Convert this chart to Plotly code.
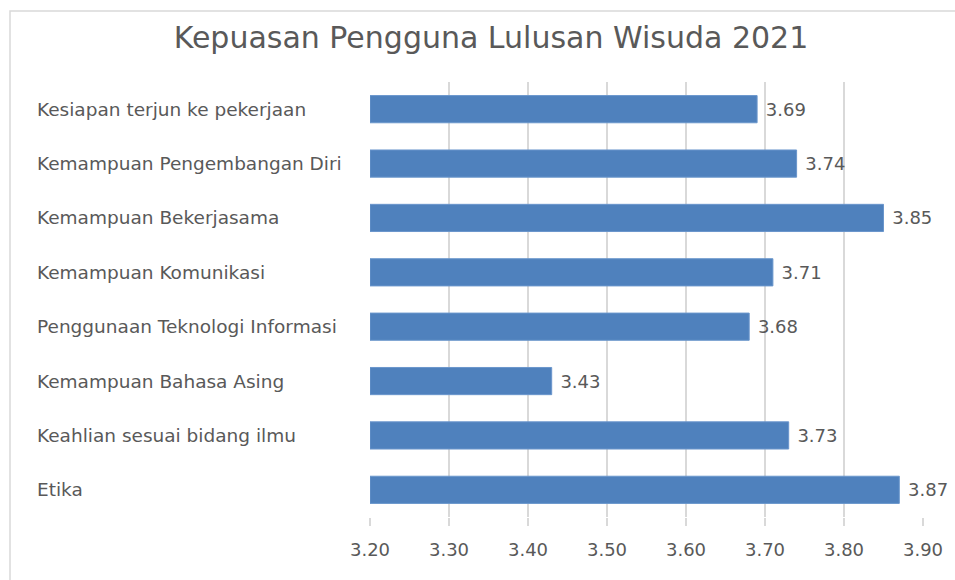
import plotly.graph_objects as go

categories = [
    "Kesiapan terjun ke pekerjaan",
    "Kemampuan Pengembangan Diri",
    "Kemampuan Bekerjasama",
    "Kemampuan Komunikasi",
    "Penggunaan Teknologi Informasi",
    "Kemampuan Bahasa Asing",
    "Keahlian sesuai bidang ilmu",
    "Etika",
]
values = [3.69, 3.74, 3.85, 3.71, 3.68, 3.43, 3.73, 3.87]
axis_min = 3.2
axis_max = 3.9
tick_vals = [3.2, 3.3, 3.4, 3.5, 3.6, 3.7, 3.8, 3.9]
tick_text = ["3.20", "3.30", "3.40", "3.50", "3.60", "3.70", "3.80", "3.90"]
title_text = "Kepuasan Pengguna Lulusan Wisuda 2021"

FONT = "DejaVu Sans"
GRAY = "#595959"

W, H = 955, 580
L, R, T, B = 370, 32, 82, 63
pw = W - L - R
ph = H - T - B

fig = go.Figure()
fig.add_trace(go.Bar(
    x=[v - axis_min for v in values], y=categories, orientation="h",
    base=axis_min,
    marker=dict(color="#4f81bd", line=dict(color="#6a96cc", width=1)),
    text=[f"{v:.2f}" for v in values],
    texttemplate=" %{text}",
    textposition="outside",
    textfont=dict(family=FONT, size=18, color=GRAY),
    cliponaxis=False,
    width=0.5,
    hoverinfo="skip",
))

for c in categories:
    fig.add_annotation(
        x=(35 - L) / pw, xref="paper", y=c, yref="y",
        text=c, showarrow=False, xanchor="left",
        font=dict(family=FONT, size=18.5, color=GRAY),
    )

fig.add_shape(type="rect", xref="paper", yref="paper",
              x0=(10 - L) / pw, x1=(W + 20 - L) / pw,
              y0=-(H + 20 - T - ph) / ph, y1=1 + (T - 11) / ph,
              line=dict(color="#d9d9d9", width=1.5), fillcolor="rgba(0,0,0,0)", layer="below")

fig.update_layout(
    width=W, height=H,
    margin=dict(l=L, r=R, t=T, b=B),
    paper_bgcolor="white", plot_bgcolor="white",
    showlegend=False,
    title=dict(text=title_text, x=491 / W, xanchor="center", y=1 - 37 / H, yanchor="middle",
               font=dict(family=FONT, size=30, color=GRAY)),
    xaxis=dict(range=[axis_min, axis_max], tickvals=tick_vals, ticktext=tick_text,
               showgrid=True, gridcolor="#d9d9d9", gridwidth=1.5,
               zeroline=False, showline=False,
               ticks="outside", ticklen=8, tickcolor="#d9d9d9", tickwidth=1.5,
               ticklabelstandoff=8,
               tickfont=dict(family=FONT, size=18, color=GRAY)),
    yaxis=dict(autorange="reversed", showticklabels=False, showgrid=False,
               zeroline=False, showline=False, ticks=""),
)
fig.write_html("out.html", config={"displayModeBar": False},
               post_script="document.body.style.margin='0';document.body.style.overflow='hidden';")
